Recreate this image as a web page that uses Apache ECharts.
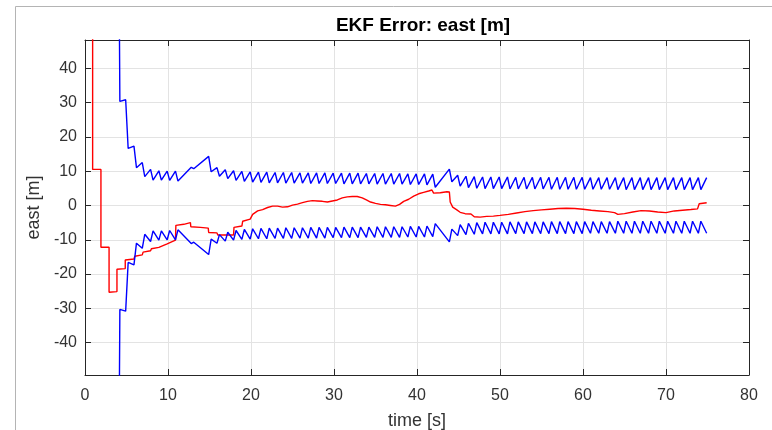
<!DOCTYPE html>
<html>
<head>
<meta charset="utf-8">
<title>EKF Error: east [m]</title>
<script src="https://cdn.jsdelivr.net/npm/echarts@6/dist/echarts.min.js"></script>
<style>
  html, body { margin: 0; padding: 0; background: #ffffff; }
  #chart { width: 772px; height: 430px; }
</style>
</head>
<body>
<div id="chart"></div>
<script>
// East position error of the EKF and its +/- uncertainty envelope.

// Tick values
const xTicks = [0, 10, 20, 30, 40, 50, 60, 70, 80];
const yTicks = [-40, -30, -20, -10, 0, 10, 20, 30, 40];

// Estimation error, east [m]
const errTime = [0.92, 0.92, 1.92, 1.92, 2.9, 2.9, 3.85, 3.85, 4.85, 4.85,
  5.9, 6.0, 6.9, 7.0, 7.9, 8.0, 8.9, 9.0, 9.9, 10.0,
  10.9, 10.95, 11.9, 12.0, 12.7, 12.75, 13.9, 14.85, 14.9, 15.9,
  16.0, 17.9, 17.95, 18.9, 19.0, 19.9, 20.2, 20.8, 21.4, 22.0,
  22.6, 23.2, 23.8, 24.4, 25.0, 25.6, 26.2, 26.8, 27.4, 28.0,
  28.6, 29.2, 29.8, 30.4, 31.0, 31.6, 32.2, 32.8, 33.4, 33.9,
  34.4, 35.0, 35.6, 36.2, 36.8, 37.4, 37.9, 38.4, 39.0, 39.6,
  40.2, 40.8, 41.4, 41.8, 42.0, 42.8, 43.6, 43.9, 44.0, 44.3,
  44.8, 45.2, 45.8, 46.5, 46.9, 47.6, 48.4, 49.2, 50.0, 51.0,
  52.0, 53.0, 54.0, 55.0, 56.0, 57.0, 58.0, 59.0, 60.0, 61.0,
  62.0, 63.0, 63.8, 64.2, 65.0, 66.0, 67.0, 68.0, 69.0, 70.0,
  71.0, 72.0, 73.0, 73.8, 74.0, 74.9];
const errEast = [60, 10.5, 10.5, -12.2, -12.2, -25.3, -25.1, -18.6, -18.4, -15.9,
  -15.6, -14.8, -14.4, -13.6, -13.2, -12.6, -12.2, -11.8, -11.2, -10.8,
  -10.1, -5.8, -5.5, -5.2, -5.0, -6.2, -6.4, -6.6, -7.9, -8.0,
  -8.6, -8.6, -6.4, -6.0, -4.6, -4.0, -2.6, -1.6, -1.2, -0.6,
  -0.2, -0.2, -0.5, -0.4, 0.1, 0.4, 0.8, 1.2, 1.4, 1.3,
  1.2, 1.0, 1.3, 1.6, 2.2, 2.5, 2.6, 2.6, 2.2, 1.6,
  1.0, 0.6, 0.3, 0.2, 0.0, -0.2, 0.3, 1.2, 1.8, 2.7,
  3.4, 3.8, 4.2, 4.5, 3.6, 3.7, 4.0, 3.9, 1.0, -0.5,
  -1.3, -2.0, -2.4, -2.5, -3.3, -3.4, -3.2, -3.1, -2.9, -2.6,
  -2.2, -1.8, -1.5, -1.3, -1.1, -0.9, -0.8, -0.9, -1.1, -1.4,
  -1.6, -1.8, -2.1, -2.6, -2.4, -1.9, -1.5, -1.6, -1.9, -2.1,
  -1.6, -1.4, -1.2, -1.0, 0.5, 0.8];

// Measurement update instants and the envelope just before / just after each update
const updateTime = [3.9, 4.9, 5.9, 6.9, 7.9, 8.9, 9.9, 10.9, 12.8, 14.9,
  15.9, 16.9, 17.9, 18.9, 19.9, 20.9, 21.9, 22.9, 23.9, 24.9,
  25.9, 26.9, 27.9, 28.9, 29.9, 30.9, 31.9, 32.9, 33.9, 34.9,
  35.9, 36.9, 37.9, 38.9, 39.9, 40.9, 41.9,
  43.9, 44.9, 45.9, 46.9, 47.9, 48.9, 49.9, 50.9, 51.9, 52.9,
  53.9, 54.9, 55.9, 56.9, 57.9, 58.9, 59.9, 60.9, 61.9, 62.9,
  63.9, 64.9, 65.9, 66.9, 67.9, 68.9, 69.9, 70.9, 71.9, 72.9,
  73.9, 74.9];
const upperBefore = [150, 30.8, 17.3, 12.5, 10.5, 10.1, 10.0, 10.0, 11.1, 14.3,
  11.0, 10.4, 10.1, 9.9, 9.8, 9.7, 9.7, 9.6, 9.6, 9.6,
  9.5, 9.5, 9.5, 9.5, 9.4, 9.4, 9.4, 9.4, 9.3, 9.3,
  9.3, 9.3, 9.3, 9.2, 9.2, 9.2, 9.1,
  10.6, 8.8, 8.5, 8.4, 8.3, 8.3, 8.3, 8.3, 8.2, 8.2,
  8.2, 8.2, 8.2, 8.2, 8.2, 8.2, 8.2, 8.1, 8.1, 8.1,
  8.1, 8.1, 8.1, 8.1, 8.1, 8.1, 8.1, 8.1, 8.1, 8.1,
  8.1, 8.1];
const upperAfter = [30.3, 16.6, 11.0, 8.4, 7.4, 7.4, 7.3, 7.1, 10.7, 9.8,
  8.5, 7.8, 7.3, 7.0, 6.8, 6.7, 6.6, 6.6, 6.5, 6.5,
  6.5, 6.4, 6.4, 6.4, 6.4, 6.3, 6.3, 6.3, 6.3, 6.2,
  6.2, 6.2, 6.2, 6.1, 6.1, 6.0, 5.3,
  6.9, 5.6, 5.2, 5.0, 4.9, 4.9, 4.9, 4.8, 4.8, 4.8,
  4.8, 4.8, 4.7, 4.7, 4.7, 4.7, 4.7, 4.7, 4.7, 4.7,
  4.6, 4.6, 4.6, 4.6, 4.6, 4.6, 4.6, 4.6, 4.6, 4.6,
  4.6, null];
const lowerBefore = [-150, -30.8, -17.3, -12.5, -10.5, -10.1, -10.0, -10.0, -11.1, -14.3,
  -11.0, -10.4, -10.1, -9.9, -9.8, -9.7, -9.7, -9.6, -9.6, -9.6,
  -9.5, -9.5, -9.5, -9.5, -9.4, -9.4, -9.4, -9.4, -9.3, -9.3,
  -9.3, -9.3, -9.3, -9.2, -9.2, -9.2, -9.1,
  -10.6, -8.8, -8.5, -8.4, -8.3, -8.3, -8.3, -8.3, -8.2, -8.2,
  -8.2, -8.2, -8.2, -8.2, -8.2, -8.2, -8.2, -8.1, -8.1, -8.1,
  -8.1, -8.1, -8.1, -8.1, -8.1, -8.1, -8.1, -8.1, -8.1, -8.1,
  -8.1, -8.1];
const lowerAfter = [-30.3, -16.6, -11.0, -8.4, -7.4, -7.4, -7.3, -7.1, -10.7, -9.8,
  -8.5, -7.8, -7.3, -7.0, -6.8, -6.7, -6.6, -6.6, -6.5, -6.5,
  -6.5, -6.4, -6.4, -6.4, -6.4, -6.3, -6.3, -6.3, -6.3, -6.2,
  -6.2, -6.2, -6.2, -6.1, -6.1, -6.0, -5.3,
  -6.9, -5.6, -5.2, -5.0, -4.9, -4.9, -4.9, -4.8, -4.8, -4.8,
  -4.8, -4.8, -4.7, -4.7, -4.7, -4.7, -4.7, -4.7, -4.7, -4.7,
  -4.6, -4.6, -4.6, -4.6, -4.6, -4.6, -4.6, -4.6, -4.6, -4.6,
  -4.6, null];

// Logging step over which an update pulls the envelope down
const updateSpan = 0.3;

function envelope(before, after) {
  const pts = [];
  for (let i = 0; i < updateTime.length; i++) {
    pts.push([updateTime[i], before[i]]);
    if (after[i] !== null) pts.push([updateTime[i] + updateSpan, after[i]]);
  }
  return pts;
}

const errPoints = errTime.map((t, i) => [t, errEast[i]]);

const axisColor = '#262626';
const labelColor = '#333333';
const gridColor = '#e3e3e3';
const font = '"Liberation Sans", Arial, Helvetica, sans-serif';

const boxLine = { show: true, onZero: false, lineStyle: { color: axisColor, width: 1 } };

const chart = echarts.init(document.getElementById('chart'), null, { renderer: 'canvas' });
chart.setOption({
  animation: false,
  backgroundColor: '#ffffff',
  title: {
    text: 'EKF Error: east [m]',
    left: 418, top: 11, textAlign: 'center',
    textStyle: { fontFamily: font, fontSize: 19, fontWeight: 'bold', color: '#000000' }
  },
  graphic: [
    { type: 'polyline', silent: true, z: -1,
      shape: { points: [[15.5, 430], [15.5, 6.5], [772, 6.5]] },
      style: { stroke: '#b4b4b4', lineWidth: 1, fill: null } }
  ],
  grid: { left: 85, top: 40, width: 664, height: 335, containLabel: false,
    outerBoundsMode: 'none' },
  xAxis: [
    {
      type: 'value', min: 0, max: 80, interval: 10, position: 'bottom',
      name: 'time [s]', nameLocation: 'middle', nameGap: 37,
      nameTextStyle: { fontFamily: font, fontSize: 18, color: labelColor },
      axisLine: boxLine,
      axisTick: { show: true, inside: true, length: 6, lineStyle: { color: axisColor } },
      axisLabel: { fontFamily: font, fontSize: 16, color: labelColor, margin: 13,
        customValues: xTicks },
      splitLine: { show: true, lineStyle: { color: gridColor, width: 1 } }
    },
    {
      type: 'value', min: 0, max: 80, interval: 10, position: 'top',
      axisLine: boxLine,
      axisTick: { show: true, inside: true, length: 6, lineStyle: { color: axisColor } },
      axisLabel: { show: false },
      splitLine: { show: false }
    }
  ],
  yAxis: [
    {
      type: 'value', min: -49.4, max: 48.2, position: 'left',
      name: 'east [m]', nameLocation: 'middle', nameGap: 40, nameRotate: 90,
      nameTextStyle: { fontFamily: font, fontSize: 18, color: labelColor },
      axisLine: boxLine,
      axisTick: { show: true, inside: true, length: 6, customValues: yTicks,
        lineStyle: { color: axisColor } },
      axisLabel: { fontFamily: font, fontSize: 16, color: labelColor, margin: 8,
        customValues: yTicks },
      splitLine: { show: true, lineStyle: { color: gridColor, width: 1 } }
    },
    {
      type: 'value', min: -49.4, max: 48.2, position: 'right',
      axisLine: boxLine,
      axisTick: { show: true, inside: true, length: 6, customValues: yTicks,
        lineStyle: { color: axisColor } },
      axisLabel: { show: false, customValues: yTicks },
      splitLine: { show: false }
    }
  ],
  series: [
    { name: 'error', type: 'line', data: errPoints, showSymbol: false, symbol: 'none',
      clip: true, z: 3, lineStyle: { color: '#ff0000', width: 1.4 } },
    { name: '+bound', type: 'line', data: envelope(upperBefore, upperAfter), showSymbol: false,
      symbol: 'none', clip: true, z: 4, lineStyle: { color: '#0000ff', width: 1.4 } },
    { name: '-bound', type: 'line', data: envelope(lowerBefore, lowerAfter), showSymbol: false,
      symbol: 'none', clip: true, z: 4, lineStyle: { color: '#0000ff', width: 1.4 } }
  ]
});
</script>
</body>
</html>
